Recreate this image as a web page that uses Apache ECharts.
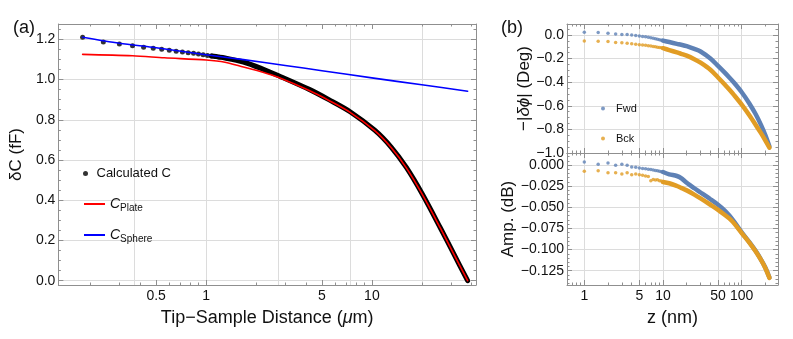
<!DOCTYPE html>
<html><head><meta charset="utf-8">
<script src="https://cdn.jsdelivr.net/npm/echarts@6/dist/echarts.min.js"></script>
<style>html,body{margin:0;padding:0;background:#fff}#c{width:793px;height:339px}</style>
</head><body><div id="c"></div><script>
// ---------- Panel (a) data ----------
const calcDotX = [0.18,0.24,0.30,0.36,0.42,0.48,0.54,0.60,0.66,0.72,0.78,0.84,0.90,0.96,1.02,1.08,1.14,1.20];
const calcDotY = [1.210,1.186,1.176,1.168,1.160,1.155,1.150,1.145,1.140,1.137,1.133,1.130,1.127,1.123,1.120,1.117,1.114,1.111];
const calcBandX = [1.08,1.3,1.68,2.2,2.72,4.19,5.5,7.39,10.4,13.1,16.1,20.1,25.9,31.2,37.8];
const calcBandY = [1.117,1.107,1.087,1.052,1.020,0.951,0.900,0.840,0.748,0.663,0.564,0.432,0.262,0.133,0.0];
const plateX = [0.18,0.36,0.56,1.0,1.3,1.68,2.2,2.72,4.19,5.5,7.39,10.4,13.1,16.1,20.1,25.9,31.2,37.8];
const plateY = [1.125,1.118,1.108,1.097,1.086,1.062,1.036,1.011,0.945,0.896,0.837,0.746,0.661,0.562,0.430,0.261,0.132,0.0];
const sphereX = [0.18,0.3,0.5,1,1.68,3,5,10,20,37.8];
const sphereY = [1.210,1.180,1.158,1.123,1.099,1.070,1.044,1.008,0.974,0.942];
const aXTickLabels = [0.5,1,5,10];
const aYTickLabels = [0,0.2,0.4,0.6,0.8,1.0,1.2];

// ---------- Panel (b) data ----------
const zDots = [1,1.5,2,2.5,3,3.5,4,4.5,5,5.5,6,6.5,7,7.5,8,8.5,9,9.5,10];
const phaseFwdDots = [0.023,0.020,0.014,0.008,0.005,0.003,0.000,-0.004,-0.008,-0.012,-0.016,-0.020,-0.024,-0.028,-0.032,-0.036,-0.040,-0.044,-0.048];
const phaseBckDots = [-0.050,-0.053,-0.056,-0.063,-0.065,-0.070,-0.075,-0.079,-0.082,-0.085,-0.088,-0.091,-0.094,-0.097,-0.100,-0.103,-0.106,-0.109,-0.112];
const ampFwdDots = [0.0035,0.0008,0.0024,-0.0004,0.0008,-0.0004,-0.0024,-0.0027,-0.0035,-0.0040,-0.0044,-0.0050,-0.0053,-0.0059,-0.0065,-0.0069,-0.0074,-0.0080,-0.0083];
const ampBckDots = [-0.0075,-0.0067,-0.0091,-0.0091,-0.0106,-0.0091,-0.0115,-0.0106,-0.0115,-0.0122,-0.0130,-0.0135,-0.0186,-0.0170,-0.0177,-0.0175,-0.0185,-0.0190,-0.0201];
const zBand = [10,12,15,17,20,25,30,40,50,60,70,80,100,125,150,175,200,225];
const phaseFwdBand = [-0.048,-0.060,-0.075,-0.083,-0.095,-0.118,-0.140,-0.200,-0.262,-0.315,-0.362,-0.405,-0.485,-0.580,-0.670,-0.760,-0.850,-0.945];
const phaseBckBand = [-0.112,-0.128,-0.148,-0.160,-0.175,-0.205,-0.235,-0.295,-0.360,-0.415,-0.465,-0.510,-0.590,-0.680,-0.760,-0.830,-0.895,-0.955];
const ampFwdBand = [-0.0083,-0.0110,-0.0130,-0.0155,-0.0210,-0.0275,-0.0325,-0.0405,-0.0470,-0.0533,-0.0600,-0.0670,-0.0796,-0.0912,-0.1015,-0.1115,-0.1214,-0.1330];
const ampBckBand = [-0.0201,-0.0216,-0.0248,-0.0270,-0.0300,-0.0350,-0.0395,-0.0470,-0.0530,-0.0585,-0.0635,-0.0690,-0.0805,-0.0918,-0.1020,-0.1120,-0.1220,-0.1335];
const bXTickLabels = [1,5,10,50,100];
const phaseTickLabels = [-1.0,-0.8,-0.6,-0.4,-0.2,0.0];
const ampTickLabels = [-0.125,-0.100,-0.075,-0.050,-0.025,0.000];

// ---------- helpers ----------
const FRAME = '#8f8f8f', GRIDC = '#dcdcdc', TXT = '#111';
const FONT = 'Arial, "Liberation Sans", Helvetica, sans-serif';
const L = v => Math.log10(v);
const pairs = (xs, ys, logx) => xs.map((x, i) => [logx ? L(x) : x, ys[i]]);
const range = (a, b, s) => { const r = []; for (let k = 0; a + k * s <= b + 1e-9; k++) r.push(+(a + k * s).toFixed(6)); return r; };
const minus = (v, d) => (v < -1e-9 ? '\u2212' : '') + Math.abs(v).toFixed(d);
const logFmt = v => String(parseFloat(Math.pow(10, v).toPrecision(3)));

function axesFor(g, dim, min, max, major, minor, gridVals, labelFmt, nameCfg, labelMargin) {
  const posA = dim === 'x' ? 'bottom' : 'left';
  const posB = dim === 'x' ? 'top' : 'right';
  const base = {type:'value', gridIndex:g, min:min, max:max, silent:true,
    splitLine:{show:false}, axisLabel:{show:false}};
  const line = {show:true, onZero:false, lineStyle:{color:FRAME, width:1}};
  const noline = {show:false, onZero:false};
  const tick = (vals, len) => ({show:true, inside:true, length:len, customValues:vals, lineStyle:{color:FRAME, width:1}});
  const main = Object.assign({}, base, {position:posA, axisLine:line, axisTick:tick(major, 5),
    axisLabel: labelFmt ? {show:true, customValues:major, formatter:labelFmt, color:TXT, fontSize:14, fontFamily:FONT, margin:labelMargin} : {show:false}}, nameCfg || {});
  const minA = Object.assign({}, base, {position:posA, axisLine:noline, axisTick:tick(minor, 2.5)});
  const majB = Object.assign({}, base, {position:posB, axisLine:line, axisTick:tick(major, 5)});
  const minB = Object.assign({}, base, {position:posB, axisLine:noline, axisTick:tick(minor, 2.5)});
  const gridAx = Object.assign({}, base, {position:posA, axisLine:noline, axisTick:{show:false, customValues:gridVals},
    splitLine:{show:true, lineStyle:{color:GRIDC, width:1}}});
  return [main, minA, majB, minB, gridAx];
}
const nameStyle = (size) => ({fontSize:size, color:TXT, fontFamily:FONT,
  rich:{i:{fontStyle:'italic', fontSize:size, color:TXT, fontFamily:FONT}}});

// ranges
const aX = [-0.891, 1.628], aY = [-0.0214, 1.276];
const bX = [-0.22, 2.461], bY1 = [-1.0, 0.093], bY2 = [-0.1419, 0.0142];

const aXMinor = [0.2,0.3,0.4,0.6,0.7,0.8,0.9,2,3,4,6,7,8,9,20,30,40].map(L);
const aXGrid = [-1,0,1,2,3].map(n => L(Math.exp(n)));
const bXMinor = [0.6,0.7,0.8,0.9,2,3,4,6,7,8,9,20,30,40,60,70,80,90,200].map(L);

const xAxes = [].concat(
  axesFor(0, 'x', aX[0], aX[1], aXTickLabels.map(L), aXMinor, aXGrid, logFmt,
    {name:'Tip\u2212Sample Distance ({i|\u03bc}m)', nameLocation:'middle', nameGap:24, nameTextStyle:nameStyle(18)}, 4),
  axesFor(1, 'x', bX[0], bX[1], bXTickLabels.map(L), bXMinor, bXTickLabels.map(L), null, null, 4),
  axesFor(2, 'x', bX[0], bX[1], bXTickLabels.map(L), bXMinor, bXTickLabels.map(L), logFmt,
    {name:'z (nm)', nameLocation:'middle', nameGap:24, nameTextStyle:nameStyle(18)}, 4)
);
const yAxes = [].concat(
  axesFor(0, 'y', aY[0], aY[1], aYTickLabels, range(0.05, 1.25, 0.05).filter(v => Math.abs(v / 0.2 - Math.round(v / 0.2)) > 1e-6),
    aYTickLabels, v => v.toFixed(1),
    {name:'\u03b4C (fF)', nameLocation:'middle', nameGap:27, nameTextStyle:nameStyle(17)}, 3),
  axesFor(1, 'y', bY1[0], bY1[1], phaseTickLabels, range(-0.95, 0.05, 0.05).filter(v => Math.abs(v / 0.2 - Math.round(v / 0.2)) > 1e-6),
    phaseTickLabels.slice(1), v => minus(v, 1),
    {name:'\u2212|{i|\u03b4\u03d5}| (Deg)', nameLocation:'middle', nameGap:32, nameTextStyle:nameStyle(17)}, 3),
  axesFor(2, 'y', bY2[0], bY2[1], ampTickLabels, range(-0.14, 0.01, 0.005).filter(v => Math.abs(v / 0.025 - Math.round(v / 0.025)) > 1e-6),
    ampTickLabels, v => minus(v, 3),
    {name:'Amp. (dB)', nameLocation:'middle', nameGap:50, nameTextStyle:nameStyle(17)}, 3)
);

const BLUE = '#5E81B5', ORANGE = '#E19C24';
const lineS = (name, xi, xs, ys, color, width) => ({type:'line', name:name, xAxisIndex:xi, yAxisIndex:xi,
  data:pairs(xs, ys, true), symbol:'none', smooth:0.3,
  lineStyle:{color:color, width:width, cap:'round', join:'round'}, itemStyle:{color:color}});
const dotS = (name, xi, xs, ys, color, size) => ({type:'scatter', name:name, xAxisIndex:xi, yAxisIndex:xi,
  data:pairs(xs, ys, true), symbol:'circle', symbolSize:size, itemStyle:{color:color}});

const series = [
  dotS('Calculated C', 0, calcDotX, calcDotY, '#000', 5),
  lineS('Calculated C', 0, calcBandX, calcBandY, '#000', 5),
  lineS('C_Plate', 0, plateX, plateY, '#ff0000', 1.6),
  lineS('C_Sphere', 0, sphereX, sphereY, '#0000ff', 1.6),
  dotS('Fwd', 5, zDots, phaseFwdDots, BLUE, 3.5),
  dotS('Bck', 5, zDots, phaseBckDots, ORANGE, 3.5),
  lineS('Fwd', 5, zBand, phaseFwdBand, BLUE, 4.5),
  lineS('Bck', 5, zBand, phaseBckBand, ORANGE, 4.5),
  dotS('Fwd', 10, zDots, ampFwdDots, BLUE, 3.5),
  dotS('Bck', 10, zDots, ampBckDots, ORANGE, 3.5),
  lineS('Fwd', 10, zBand, ampFwdBand, BLUE, 4.5),
  lineS('Bck', 10, zBand, ampBckBand, ORANGE, 4.5)
];

const option = {
  animation:false,
  backgroundColor:'#fff',
  textStyle:{fontFamily:FONT},
  title:[
    {text:'(a)', left:8, top:14, textStyle:{fontSize:18, fontWeight:'normal', color:TXT, fontFamily:FONT}},
    {text:'(b)', left:496, top:14, textStyle:{fontSize:18, fontWeight:'normal', color:TXT, fontFamily:FONT}}
  ],
  grid:[
    {left:52, top:24, width:424, height:261},
    {left:567, top:24, width:211, height:129},
    {left:567, top:153, width:211, height:132}
  ],
  legend:[
    {data:['Calculated C'], left:78, top:162, orient:'vertical', itemWidth:12, itemHeight:5, selectedMode:false,
      textStyle:{fontSize:13, color:TXT, fontFamily:FONT}},
    {data:[{name:'C_Plate', icon:'rect'}, {name:'C_Sphere', icon:'rect'}], left:79, top:192, orient:'vertical',
      itemWidth:21, itemHeight:2, itemGap:15, selectedMode:false,
      formatter: n => n === 'C_Plate' ? '{c|C}{s|Plate}' : '{c|C}{s|Sphere}',
      textStyle:{color:TXT, fontFamily:FONT, rich:{
        c:{fontSize:14, fontStyle:'italic', color:TXT, fontFamily:FONT, lineHeight:18},
        s:{fontSize:10, color:TXT, fontFamily:FONT, verticalAlign:'bottom', lineHeight:12, padding:[6,0,0,0]}}}},
    {data:['Fwd','Bck'], left:596, top:98, orient:'vertical', itemWidth:16, itemHeight:4, itemGap:19, selectedMode:false,
      textStyle:{fontSize:11, color:TXT, fontFamily:FONT}}
  ],
  xAxis:xAxes,
  yAxis:yAxes,
  series:series
};
const chart = echarts.init(document.getElementById('c'), null, {renderer:'canvas'});
chart.setOption(option);
</script></body></html>
